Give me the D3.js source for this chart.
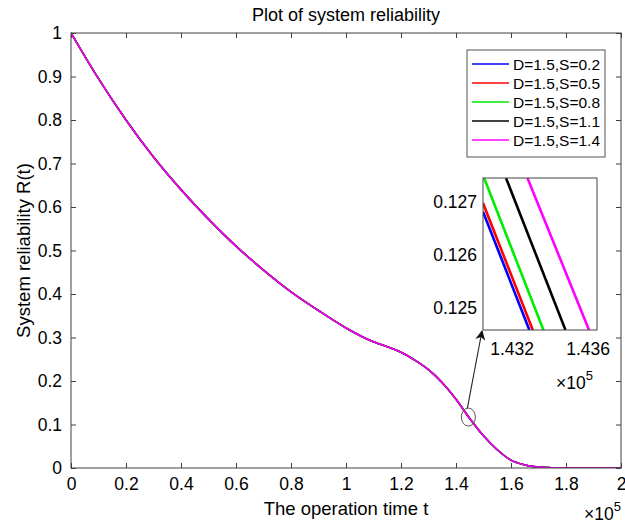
<!DOCTYPE html>
<html>
<head>
<meta charset="utf-8">
<script src="https://cdn.jsdelivr.net/npm/d3@7"></script>
<style>
  html, body { margin: 0; padding: 0; background: #fff; }
  svg { display: block; font-family: "Liberation Sans", Arial, sans-serif; }
</style>
</head>
<body>
<svg id="chart" width="625" height="524"></svg>
<script>
// ---------------- data ----------------
const seriesNames = ["D=1.5,S=0.2", "D=1.5,S=0.5", "D=1.5,S=0.8", "D=1.5,S=1.1", "D=1.5,S=1.4"];
const seriesColors = ["#0000ff", "#ff0000", "#00ee00", "#000000", "#ff00ff"];

// operation time t (x 10^5)
const timeT = [0, 0.1, 0.2, 0.3, 0.4, 0.5, 0.6, 0.7, 0.8, 0.9, 1.0, 1.1, 1.15, 1.2, 1.25, 1.3, 1.35, 1.4, 1.45, 1.5, 1.55, 1.6, 1.65, 1.7, 1.75, 1.8, 1.9, 2.0];
// system reliability R(t) (the five series coincide at full scale)
const relS02 = [1.0, 0.895, 0.80, 0.715, 0.64, 0.572, 0.51, 0.455, 0.405, 0.362, 0.322, 0.29, 0.279, 0.266, 0.248, 0.226, 0.196, 0.158, 0.114, 0.074, 0.042, 0.018, 0.007, 0.002, 0.0005, 0.0001, 0, 0];
const relS05 = [1.0, 0.895, 0.80, 0.715, 0.64, 0.572, 0.51, 0.455, 0.405, 0.362, 0.322, 0.29, 0.279, 0.266, 0.248, 0.226, 0.196, 0.158, 0.114, 0.074, 0.042, 0.018, 0.007, 0.002, 0.0005, 0.0001, 0, 0];
const relS08 = [1.0, 0.895, 0.80, 0.715, 0.64, 0.572, 0.51, 0.455, 0.405, 0.362, 0.322, 0.29, 0.279, 0.266, 0.248, 0.226, 0.196, 0.158, 0.114, 0.074, 0.042, 0.018, 0.007, 0.002, 0.0005, 0.0001, 0, 0];
const relS11 = [1.0, 0.895, 0.80, 0.715, 0.64, 0.572, 0.51, 0.455, 0.405, 0.362, 0.322, 0.29, 0.279, 0.266, 0.248, 0.226, 0.196, 0.158, 0.114, 0.074, 0.042, 0.018, 0.007, 0.002, 0.0005, 0.0001, 0, 0];
const relS14 = [1.0, 0.895, 0.80, 0.715, 0.64, 0.572, 0.51, 0.455, 0.405, 0.362, 0.322, 0.29, 0.279, 0.266, 0.248, 0.226, 0.196, 0.158, 0.114, 0.074, 0.042, 0.018, 0.007, 0.002, 0.0005, 0.0001, 0, 0];
const mainSeries = [relS02, relS05, relS08, relS11, relS14];

// zoomed inset: end points of each (locally straight) segment
const insetT = [[1.43047, 1.43291], [1.43047, 1.43309], [1.43053, 1.43365], [1.43168, 1.43481], [1.43281, 1.43605]];
const insetR = [[0.12681, 0.12459], [0.12697, 0.12459], [0.12744, 0.12459], [0.12744, 0.12459], [0.12744, 0.12459]];

const xTicks = [0, 0.2, 0.4, 0.6, 0.8, 1, 1.2, 1.4, 1.6, 1.8, 2];
const yTicks = [0, 0.1, 0.2, 0.3, 0.4, 0.5, 0.6, 0.7, 0.8, 0.9, 1];
const insetXTicks = [1.432, 1.436];
const insetYTicks = [0.125, 0.126, 0.127];
const insetXDomain = [1.43047, 1.43647];
const insetYDomain = [0.12459, 0.12744];
const markT = 1.445, markR = 0.117;

// ---------------- drawing ----------------
const svg = d3.select("#chart");
const L = 71, R = 621, T = 33, B = 468;
const axisColor = "#404040";
const fs = 17.5;

const x = d3.scaleLinear().domain([0, 2]).range([L, R]);
const y = d3.scaleLinear().domain([0, 1]).range([B, T]);

// axes
const xAxis = d3.axisBottom(x).tickValues(xTicks).tickSize(-5).tickPadding(10).tickFormat(d3.format("~g"));
const yAxis = d3.axisLeft(y).tickValues(yTicks).tickSize(-5).tickPadding(9).tickFormat(d3.format("~g"));
const xAxisTop = d3.axisTop(x).tickValues(xTicks).tickSize(-5).tickFormat("");
const yAxisRight = d3.axisRight(y).tickValues(yTicks).tickSize(-5).tickFormat("");

function styleAxis(g) {
  g.select(".domain").remove();
  g.selectAll(".tick line").attr("stroke", axisColor);
  g.selectAll(".tick text").attr("fill", "#000").style("font-size", fs + "px").style("font-family", "Liberation Sans, Arial, sans-serif");
}
svg.append("g").attr("transform", `translate(0,${B})`).call(xAxis).call(styleAxis);
svg.append("g").attr("transform", `translate(${L},0)`).call(yAxis).call(styleAxis);
svg.append("g").attr("transform", `translate(0,${T})`).call(xAxisTop).call(styleAxis);
svg.append("g").attr("transform", `translate(${R},0)`).call(yAxisRight).call(styleAxis);

// curves
svg.append("defs").append("clipPath").attr("id", "mainclip")
  .append("rect").attr("x", L).attr("y", T - 2).attr("width", R - L).attr("height", B - T + 2);
const line = d3.line().x((d, i) => x(timeT[i])).y(d => y(d)).curve(d3.curveMonotoneX);
const curves = svg.append("g").attr("clip-path", "url(#mainclip)");
mainSeries.forEach((s, k) => {
  curves.append("path").datum(s).attr("d", line)
    .attr("fill", "none").attr("stroke", seriesColors[k]).attr("stroke-width", 1.6);
});

// box
svg.append("rect").attr("x", L).attr("y", T).attr("width", R - L).attr("height", B - T)
  .attr("fill", "none").attr("stroke", axisColor).attr("stroke-width", 1);

// title & labels
svg.append("text").attr("x", (L + R) / 2).attr("y", 21).attr("text-anchor", "middle")
  .style("font-size", "18px").text("Plot of system reliability");
svg.append("text").attr("x", (L + R) / 2).attr("y", 515).attr("text-anchor", "middle")
  .style("font-size", "18.5px").text("The operation time t");
svg.append("text").attr("transform", `translate(30,${(T + B) / 2}) rotate(-90)`).attr("text-anchor", "middle")
  .style("font-size", "18.5px").text("System reliability R(t)");
const ex = svg.append("text").attr("x", 584).attr("y", 520).style("font-size", fs + "px");
ex.append("tspan").text("\u00d710");
ex.append("tspan").attr("dy", -9).style("font-size", "13px").text("5");

// circle marker
svg.append("ellipse").attr("cx", x(markT)).attr("cy", y(markR)).attr("rx", 7).attr("ry", 9)
  .attr("fill", "none").attr("stroke", "#555").attr("stroke-width", 1);

// inset
const iL = 483, iR = 597, iT = 178, iB = 330;
const ix = d3.scaleLinear().domain(insetXDomain).range([iL, iR]);
const iy = d3.scaleLinear().domain(insetYDomain).range([iB, iT]);
svg.append("rect").attr("x", iL).attr("y", iT).attr("width", iR - iL).attr("height", iB - iT)
  .attr("fill", "#fff").attr("stroke", "none");
svg.select("defs").append("clipPath").attr("id", "insetclip")
  .append("rect").attr("x", iL).attr("y", iT).attr("width", iR - iL).attr("height", iB - iT);
const ig = svg.append("g").attr("clip-path", "url(#insetclip)");
insetT.forEach((ts, k) => {
  ig.append("line")
    .attr("x1", ix(ts[0])).attr("y1", iy(insetR[k][0]))
    .attr("x2", ix(ts[1])).attr("y2", iy(insetR[k][1]))
    .attr("stroke", seriesColors[k]).attr("stroke-width", 2.6);
});
svg.append("rect").attr("x", iL).attr("y", iT).attr("width", iR - iL).attr("height", iB - iT)
  .attr("fill", "none").attr("stroke", "#444").attr("stroke-width", 1);
insetYTicks.forEach(v => {
  svg.append("text").attr("x", iL - 6).attr("y", iy(v)).attr("dy", "0.35em").attr("text-anchor", "end")
    .style("font-size", fs + "px").text(v.toFixed(3));
});
insetXTicks.forEach(v => {
  svg.append("text").attr("x", ix(v)).attr("y", iB + 25).attr("text-anchor", "middle")
    .style("font-size", fs + "px").text(v.toFixed(3));
});
const iex = svg.append("text").attr("x", 556).attr("y", 389).style("font-size", fs + "px");
iex.append("tspan").text("\u00d710");
iex.append("tspan").attr("dy", -9).style("font-size", "13px").text("5");

// arrow from circle to inset corner
svg.select("defs").append("marker").attr("id", "arrowhead").attr("viewBox", "0 0 10 10")
  .attr("refX", 9).attr("refY", 5).attr("markerWidth", 10).attr("markerHeight", 10)
  .attr("orient", "auto").attr("markerUnits", "userSpaceOnUse")
  .append("path").attr("d", "M0,0 L10,5 L0,10 L3,5 z").attr("fill", "#111");
svg.append("line").attr("x1", x(markT) - 1).attr("y1", y(markR) - 9)
  .attr("x2", iL - 1).attr("y2", iB + 1)
  .attr("stroke", "#222").attr("stroke-width", 1.1).attr("marker-end", "url(#arrowhead)");

// legend
const lgX = 467, lgY = 50, lgW = 138, lgH = 107;
svg.append("rect").attr("x", lgX).attr("y", lgY).attr("width", lgW).attr("height", lgH)
  .attr("fill", "#fff").attr("stroke", "#555").attr("stroke-width", 1);
seriesNames.forEach((name, k) => {
  const ry = lgY + 14 + k * 19;
  svg.append("line").attr("x1", lgX + 5).attr("x2", lgX + 42).attr("y1", ry).attr("y2", ry)
    .attr("stroke", seriesColors[k]).attr("stroke-width", 1.6);
  svg.append("text").attr("x", lgX + 46).attr("y", ry).attr("dy", "0.36em")
    .style("font-size", "15.5px").text(name);
});
</script>
</body>
</html>
